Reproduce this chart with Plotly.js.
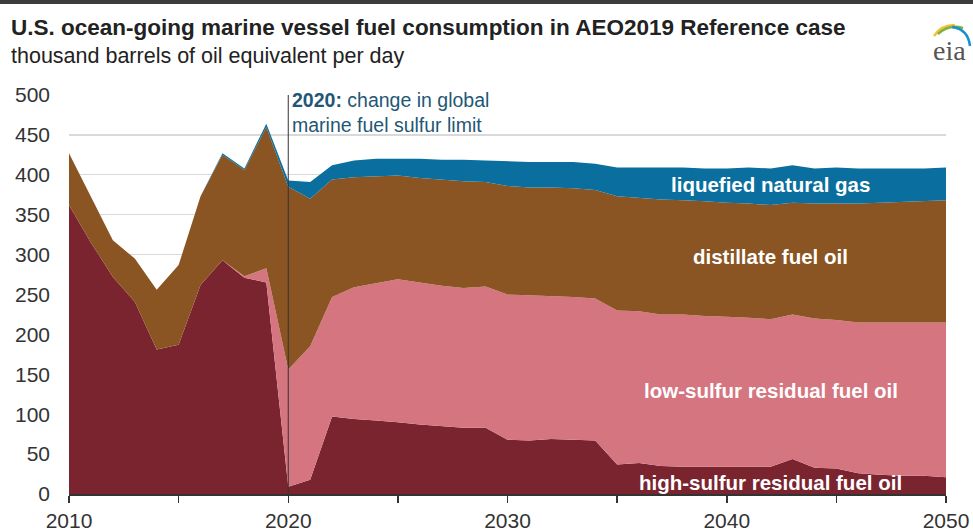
<!DOCTYPE html>
<html>
<head>
<meta charset="utf-8">
<script src="https://cdn.plot.ly/plotly-3.0.1.min.js"></script>
<style>html,body{margin:0;padding:0;background:#fff;}#chart{width:973px;height:532px;}</style>
</head>
<body>
<div id="chart"></div>
<script>
const years = [2010,2011,2012,2013,2014,2015,2016,2017,2018,2019,
  2020,2021,2022,2023,2024,2025,2026,2027,2028,2029,
  2030,2031,2032,2033,2034,2035,2036,2037,2038,2039,
  2040,2041,2042,2043,2044,2045,2046,2047,2048,2049,2050];
const highSulfurResidual = [362,315,272,241,181,187,262,293,271,265,
  9,18,97,94,92,90,87,85,83,83,
  68,67,69,68,67,37,39,35,34,34,
  34,34,34,44,33,32,26,24,23,23,21];
const lowSulfurResidual = [0,0,0,0,0,0,0,0,2,18,
  147,167,150,165,172,179,178,176,175,177,
  182,182,179,179,178,193,190,190,191,189,
  188,187,185,181,187,186,189,191,192,192,194];
const distillate = [65,58,46,54,75,100,111,132,133,177,
  229,185,147,138,134,130,131,133,134,131,
  136,135,136,136,136,143,142,144,143,144,
  143,143,143,140,144,146,149,150,151,152,153];
const lng = [0,0,0,0,0,0,0,2,2,4,
  8,21,18,21,22,21,24,25,27,27,
  31,32,32,33,33,36,38,40,41,41,
  43,45,46,47,44,45,44,43,42,41,41];
const seriesNames = ['high-sulfur residual fuel oil','low-sulfur residual fuel oil','distillate fuel oil','liquefied natural gas'];
const xTickVals = [2010,2015,2020,2025,2030,2035,2040,2045,2050];
const xTickText = ['2010','','2020','','2030','','2040','','2050'];
const titleText = 'U.S. ocean-going marine vessel fuel consumption in AEO2019 Reference case';
const subtitleText = 'thousand barrels of oil equivalent per day';
const noteText = '<b>2020:</b> change in global<br>marine fuel sulfur limit';

const W = 973, H = 532;
const M = {l: 69, r: 27, t: 95, b: 38};
const PW = W - M.l - M.r, PH = H - M.t - M.b;
const px = v => (v - M.l) / PW;
const py = v => (H - M.b - v) / PH;

const colors = ['#7a2430', '#d47580', '#8a5522', '#0a6f9e'];
const values = [highSulfurResidual, lowSulfurResidual, distillate, lng];
const FONT = '"Liberation Sans", Arial, sans-serif';

const traces = values.map((vals, i) => ({
  x: years, y: vals, name: seriesNames[i], type: 'scatter', mode: 'lines',
  stackgroup: 'one', line: {width: 0, color: colors[i]}, fillcolor: colors[i],
  hoverinfo: 'skip'
}));

const labelFont = {family: FONT, size: 20.5, color: '#ffffff', weight: 'bold'};
const annotations = [
  {xref: 'paper', yref: 'paper', x: px(9), y: py(27), xanchor: 'left', yanchor: 'middle',
   text: '<b>' + titleText + '</b>', showarrow: false, font: {family: FONT, size: 22.5, color: '#222'}},
  {xref: 'paper', yref: 'paper', x: px(9), y: py(56), xanchor: 'left', yanchor: 'middle',
   text: subtitleText, showarrow: false, font: {family: FONT, size: 21.5, color: '#222'}},
  {xref: 'x', yref: 'paper', x: 2020, y: py(87), xanchor: 'left', yanchor: 'top', align: 'left',
   text: noteText, showarrow: false, font: {family: FONT, size: 19.5, color: '#1f5775'}, xshift: 2},
  {xref: 'x', yref: 'y', x: 2042, y: 388, text: seriesNames[3], showarrow: false, font: labelFont},
  {xref: 'x', yref: 'y', x: 2042, y: 298, text: seriesNames[2], showarrow: false, font: labelFont},
  {xref: 'x', yref: 'y', x: 2042, y: 130, text: seriesNames[1], showarrow: false, font: labelFont},
  {xref: 'x', yref: 'y', x: 2042, y: 15, text: seriesNames[0], showarrow: false, font: labelFont},
  {xref: 'paper', yref: 'paper', x: px(949), y: py(50), xanchor: 'center', yanchor: 'middle',
   text: 'eia', showarrow: false, font: {family: 'Liberation Serif, DejaVu Serif, serif', size: 28, color: '#555'}}
];

function pathPx(pts) {
  return 'M ' + px(pts[0][0]) + ' ' + py(pts[0][1]) + ' Q ' + px(pts[1][0]) + ' ' + py(pts[1][1]) + ' ' + px(pts[2][0]) + ' ' + py(pts[2][1]);
}

const shapes = [
  {type: 'rect', xref: 'paper', yref: 'paper', x0: px(0), x1: px(W), y0: py(0), y1: py(4),
   fillcolor: '#3c3c3c', line: {width: 0}},
  {type: 'line', xref: 'x', yref: 'y', x0: 2020, x1: 2020, y0: 0, y1: 500,
   line: {color: '#333', width: 1}, layer: 'above'},
  {type: 'path', xref: 'paper', yref: 'paper', path: pathPx([[934,36],[941,25],[955,25]]), line: {color: '#f2c230', width: 2.5}},
  {type: 'path', xref: 'paper', yref: 'paper', path: pathPx([[938,34],[949,24],[963,28]]), line: {color: '#7cb342', width: 2.5}},
  {type: 'path', xref: 'paper', yref: 'paper', path: pathPx([[952,27],[968,29],[970,46]]), line: {color: '#1a8fd0', width: 2.5}}
];

const layout = {
  width: W, height: H, margin: M, paper_bgcolor: '#fff', plot_bgcolor: '#fff',
  showlegend: false, font: {family: FONT, color: '#333'},
  xaxis: {range: [2010, 2050], tickvals: xTickVals, ticktext: xTickText, showgrid: false,
    zeroline: false, showline: true, linecolor: '#333', linewidth: 1.5, ticks: 'outside',
    ticklen: 7, tickcolor: '#333', tickwidth: 1.5, tickfont: {family: FONT, size: 21, color: '#333'},
    ticklabelstandoff: 0, fixedrange: true},
  yaxis: {range: [0, 500], dtick: 50, showgrid: true, gridcolor: '#d9d9d9', gridwidth: 1.2,
    zeroline: false, showline: false, ticks: '', tickfont: {family: FONT, size: 21, color: '#333'},
    ticklabelstandoff: 18, fixedrange: true},
  annotations: annotations, shapes: shapes
};

Plotly.newPlot('chart', traces, layout, {displayModeBar: false, staticPlot: true});
</script>
</body>
</html>
